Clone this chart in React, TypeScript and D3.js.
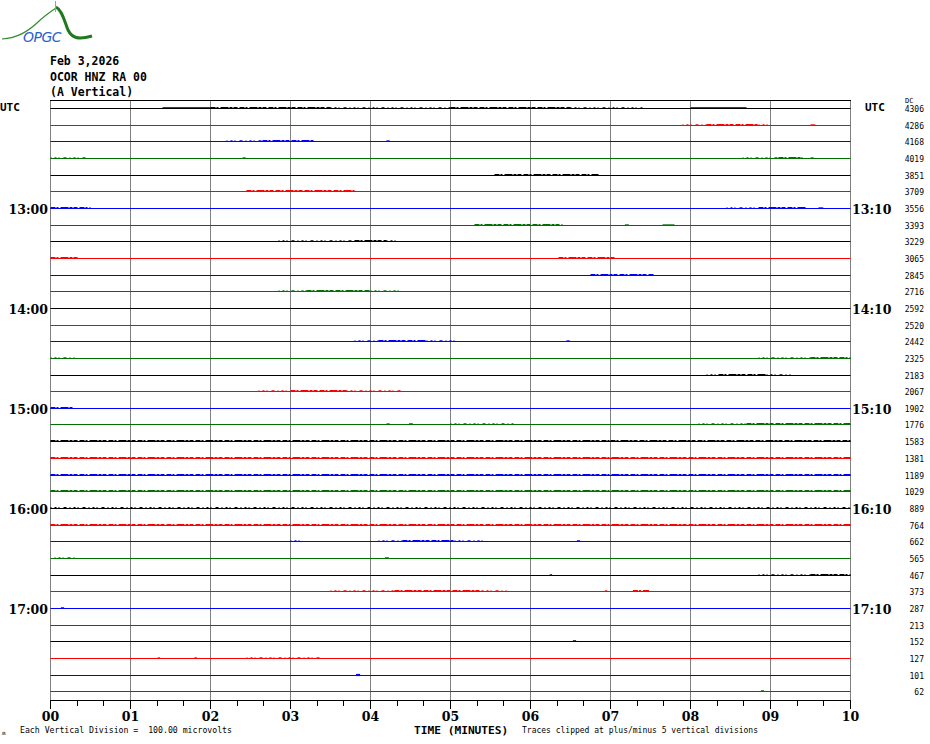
import React from "react";
import * as d3 from "d3";

const W = 930;
const H = 744;

const headerLines = ["Feb 3,2026", "OCOR HNZ RA 00", "(A Vertical)"];
const traceColors = ["#000000", "#ff0000", "#0000ff", "#007000"];
const minuteLabels = ["00", "01", "02", "03", "04", "05", "06", "07", "08", "09", "10"];
const hourRows = [6, 12, 18, 24, 30];
const leftHourLabels = ["13:00", "14:00", "15:00", "16:00", "17:00"];
const rightHourLabels = ["13:10", "14:10", "15:10", "16:10", "17:10"];
const dcValues = [
  4306, 4286, 4168, 4019, 3851, 3709, 3556, 3393, 3229, 3065, 2845, 2716,
  2592, 2520, 2442, 2325, 2183, 2067, 1902, 1776, 1583, 1381, 1189, 1029,
  889, 764, 662, 565, 467, 373, 287, 213, 152, 127, 101, 62,
];

// activity per row: [startMinute, endMinute, amplitude in microvolts]
const activity: [number, number, number][][] = [
  [[1.4, 2.0, 80], [2.0, 3.5, 200], [3.5, 5.0, 120], [5.0, 6.5, 200], [6.5, 7.4, 100], [8.0, 8.7, 60]],
  [[7.9, 8.2, 100], [8.2, 8.85, 200], [8.85, 9.0, 100], [9.5, 9.56, 60]],
  [[2.2, 2.65, 100], [2.65, 3.3, 200], [4.2, 4.24, 60]],
  [[0.0, 0.45, 100], [2.4, 2.44, 60], [8.65, 9.1, 100], [9.1, 9.4, 200], [9.5, 9.54, 60]],
  [[5.55, 6.85, 200]],
  [[2.45, 3.8, 200]],
  [[0.0, 0.5, 150], [8.45, 8.85, 100], [8.85, 9.45, 200], [9.6, 9.66, 60]],
  [[5.3, 6.4, 150], [7.18, 7.23, 60], [7.65, 7.8, 60]],
  [[2.85, 3.8, 100], [3.8, 4.2, 200], [4.2, 4.35, 100]],
  [[0.0, 0.35, 150], [6.35, 7.05, 200]],
  [[6.75, 7.55, 200]],
  [[2.85, 3.2, 100], [3.2, 4.0, 200], [4.0, 4.4, 100]],
  [],
  [],
  [[3.8, 4.1, 100], [4.1, 4.7, 200], [4.7, 5.05, 100], [6.45, 6.49, 60]],
  [[0.0, 0.3, 100], [8.85, 9.5, 100], [9.5, 10.0, 200]],
  [[8.2, 8.35, 100], [8.35, 8.95, 200], [8.95, 9.25, 100]],
  [[2.6, 3.0, 100], [3.0, 3.7, 200], [3.7, 4.4, 100]],
  [[0.0, 0.28, 150]],
  [[4.2, 4.24, 60], [4.48, 4.53, 80], [5.0, 5.8, 100], [8.1, 8.7, 100], [8.7, 10.0, 150]],
  [[0.0, 7.0, 150], [7.0, 10.0, 200]],
  [[0.0, 10.0, 170]],
  [[0.0, 10.0, 170]],
  [[0.0, 10.0, 150]],
  [[0.0, 10.0, 130]],
  [[0.0, 10.0, 150]],
  [[3.0, 3.12, 100], [4.1, 4.4, 100], [4.4, 5.05, 200], [5.05, 5.4, 100], [6.58, 6.62, 80]],
  [[0.05, 0.3, 100], [4.18, 4.23, 80]],
  [[6.24, 6.27, 60], [8.85, 9.5, 100], [9.5, 10.0, 200]],
  [[3.5, 4.3, 100], [4.3, 5.4, 200], [5.4, 5.7, 100], [6.93, 6.96, 60], [7.28, 7.48, 150]],
  [[0.13, 0.17, 80]],
  [],
  [[6.53, 6.57, 80]],
  [[1.34, 1.37, 60], [1.8, 1.83, 80], [2.45, 3.4, 100]],
  [[3.82, 3.87, 200]],
  [[8.88, 8.92, 80]],
];

const PLOT_L = 50;
const PLOT_R = 850;
const PLOT_T = 100;
const PLOT_B = 700;
const NROWS = dcValues.length;

const x = d3.scaleLinear().domain([0, 10]).range([PLOT_L + 0.5, PLOT_R + 0.5]);
const rowBand = d3.scaleLinear().domain([0, NROWS]).range([PLOT_T, PLOT_B]);
const rowY = (i: number) => Math.floor(rowBand(i + 0.5)) + 0.5;
const ampScale = d3.scaleLinear().domain([0, 100]).range([0, 0.6]);

const mono = "'DejaVu Sans Mono', monospace";
const serif = "'DejaVu Serif', serif";

function dashFor(amp: number) {
  if (amp < 90) return undefined;
  if (amp < 140) return "1 3 2 2 1 4 3 3";
  return "5 1 2 2 8 1 3 1 4 2";
}

export default function App() {
  const minorTicks = d3.range(0, 10.0001, 1 / 3);
  const grid = d3.range(0, 11);
  return (
    <svg width={W} height={H} style={{ position: "absolute", left: 0, top: 0, background: "#fff" }}>
      <rect x={0} y={0} width={W} height={H} fill="#fff" />
      {/* logo */}
      <g>
        <path d="M2,39 C18,38 28,31 37,23 C44,16 50,12 56,8" fill="none" stroke="#2e8b2e" strokeWidth={1.2} />
        <path d="M56,7 C62,10 64,20 68,30 C72,38 78,40 92,36" fill="none" stroke="#1f7a1f" strokeWidth={3} />
        <line x1={55.5} y1={1} x2={55.5} y2={12} stroke="#7ab87a" strokeWidth={1} />
        <text x={23} y={42} fontFamily={"'DejaVu Sans', sans-serif"} fontStyle="italic" fontSize={14} fill="#2b5fd0" letterSpacing={-0.5}>OPGC</text>
      </g>
      {headerLines.map((t, i) => (
        <text key={t} x={50} y={65 + i * 15.5} fontFamily={mono} fontWeight="bold" fontSize={11.5} fill="#000">{t}</text>
      ))}
      {/* vertical grid */}
      {grid.map((m) => (
        <line key={"g" + m} x1={x(m)} x2={x(m)} y1={PLOT_T} y2={PLOT_B} stroke="#808080" strokeWidth={1} />
      ))}
      <line x1={PLOT_L} x2={PLOT_R + 1} y1={PLOT_T + 0.5} y2={PLOT_T + 0.5} stroke="#000" strokeWidth={1} />
      {/* traces */}
      {dcValues.map((_, i) => {
        const y = rowY(i);
        const c = traceColors[i % 4];
        return (
          <g key={"r" + i}>
            <line x1={x(0)} x2={x(10)} y1={y} y2={y} stroke={c} strokeWidth={1} />
            {activity[i].map(([s, e, a], k) => (
              <line key={k} x1={x(s)} x2={x(e)} y1={y - 0.5} y2={y - 0.5} stroke={c}
                strokeWidth={1 + ampScale(a)} strokeDasharray={dashFor(a)} />
            ))}
          </g>
        );
      })}
      {/* axis */}
      <line x1={PLOT_L} x2={PLOT_R + 1} y1={PLOT_B + 0.5} y2={PLOT_B + 0.5} stroke="#000" strokeWidth={1} />
      {minorTicks.map((m, i) => {
        const major = i % 3 === 0;
        const xx = Math.round(x(m) - 0.5) + 0.5;
        return <line key={"t" + i} x1={xx} x2={xx} y1={PLOT_B} y2={PLOT_B + (major ? 9 : 6)} stroke="#000" strokeWidth={1} />;
      })}
      {minuteLabels.map((l, i) => (
        <text key={"m" + l} x={x(i)} y={721} textAnchor="middle" fontFamily={serif} fontWeight="bold" fontSize={12.5} fill="#000">{l}</text>
      ))}
      <text x={414} y={734} fontFamily={mono} fontWeight="bold" fontSize={11.2} fill="#000">TIME (MINUTES)</text>
      <text x={20} y={733} fontFamily={mono} fontSize={8.2} fill="#000" style={{ whiteSpace: "pre" }}>Each Vertical Division =  100.00 microvolts</text>
      <text x={522} y={733} fontFamily={mono} fontSize={8} fill="#000">Traces clipped at plus/minus 5 vertical divisions</text>
      <text x={2} y={735} fontFamily={mono} fontSize={6} fill="#000">ʍ</text>
      {/* left / right labels */}
      <text x={0} y={111} fontFamily={mono} fontWeight="bold" fontSize={11} fill="#000">UTC</text>
      <text x={865} y={111} fontFamily={mono} fontWeight="bold" fontSize={11} fill="#000">UTC</text>
      {hourRows.map((r, i) => (
        <g key={"h" + r}>
          <text x={48} y={rowY(r) + 5} textAnchor="end" fontFamily={serif} fontWeight="bold" fontSize={12.5} fill="#000">{leftHourLabels[i]}</text>
          <text x={852} y={rowY(r) + 5} fontFamily={serif} fontWeight="bold" fontSize={12.5} fill="#000">{rightHourLabels[i]}</text>
        </g>
      ))}
      <text x={905} y={103} fontFamily={mono} fontSize={7} fill="#000">DC</text>
      {dcValues.map((v, i) => (
        <text key={"dc" + i} x={924} y={rowY(i) + 3.5} textAnchor="end" fontFamily={mono} fontSize={8} fill="#000">{v}</text>
      ))}
    </svg>
  );
}
